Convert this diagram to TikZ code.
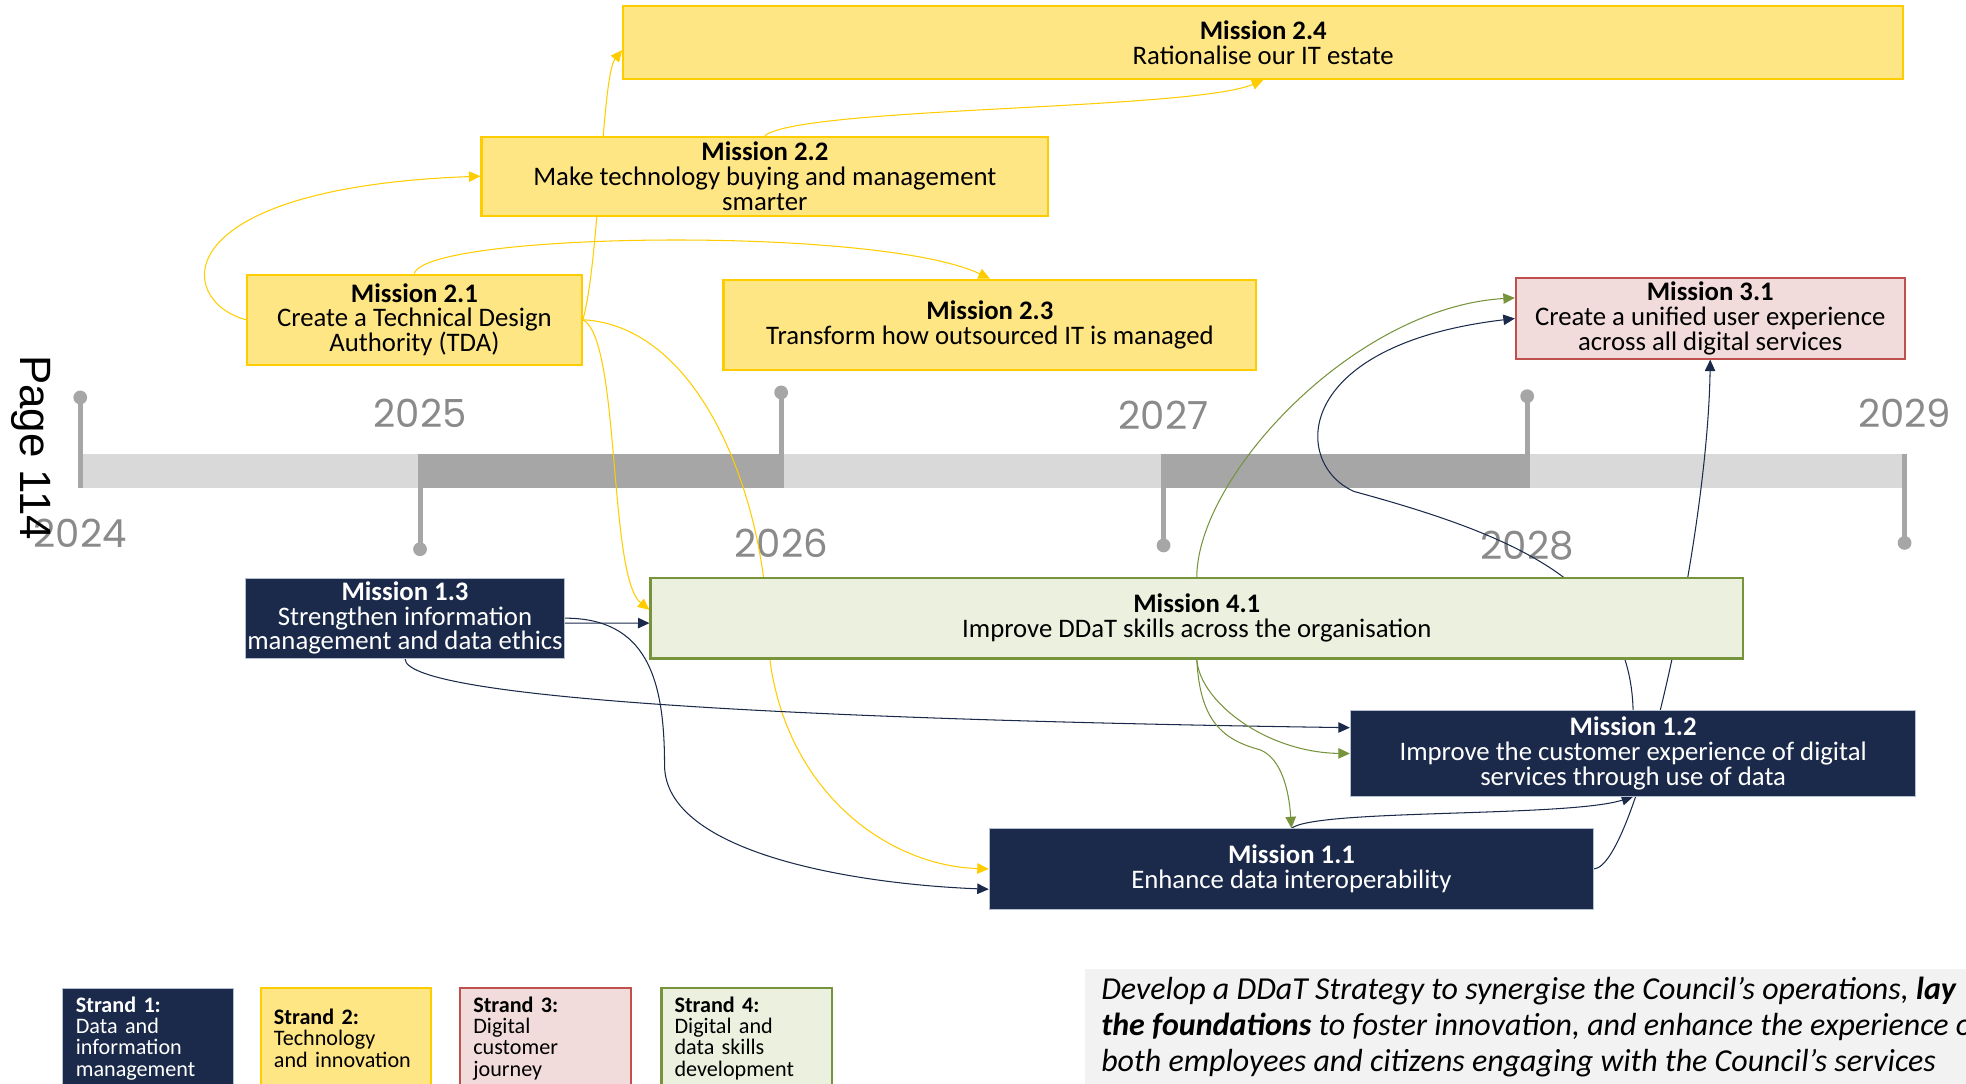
\documentclass[tikz,border=0pt]{standalone}
\usepackage{fontspec}
\setmainfont{Carlito}
\newfontfamily\yearfont{Poppins}
\newfontfamily\pagefont{Liberation Sans}
\usetikzlibrary{arrows.meta,calc}
\definecolor{navy}{HTML}{1B2A4A}
\definecolor{navyedge}{HTML}{B4BFD2}
\definecolor{yellowfill}{HTML}{FFE685}
\definecolor{gold}{HTML}{FFCC00}
\definecolor{pinkfill}{HTML}{F2DCDB}
\definecolor{pinkedge}{HTML}{C0504D}
\definecolor{greenfill}{HTML}{EBF1DE}
\definecolor{greenedge}{HTML}{77933C}
\definecolor{barlight}{HTML}{D9D9D9}
\definecolor{bardark}{HTML}{A6A6A6}
\definecolor{yeargray}{HTML}{8A8A8A}
\definecolor{quotebg}{HTML}{F2F2F2}
\pgfdeclarelayer{timeline}
\pgfdeclarelayer{links}
\pgfsetlayers{timeline,links,main}
\tikzset{
  x=0.6pt,y=-0.6pt,
  wh/.style 2 args={minimum width=#1*0.6pt,minimum height=#2*0.6pt},
  mission/.style={rectangle,inner sep=0pt,align=center,
    font=\fontsize{12.8}{11.8}\selectfont},
  strand1/.style={mission,fill=navy,draw=navyedge,line width=0.5pt,text=white},
  strand2/.style={mission,fill=yellowfill,draw=gold,line width=1pt},
  strand3/.style={mission,fill=pinkfill,draw=pinkedge,line width=1pt},
  strand4/.style={mission,fill=greenfill,draw=greenedge,line width=1.2pt},
  legendbox/.style={inner xsep=6.3pt,inner ysep=0pt,align=left,text width=69pt,
    minimum height=48pt,font=\fontsize{10.6}{10.2}\selectfont},
  link/.style={-{Triangle[length=5.5pt,width=5pt]},line width=0.5pt},
  linkY/.style={link,draw=gold},
  linkN/.style={link,draw=navy},
  linkG/.style={link,draw=greenedge},
  tick/.style={draw=bardark,line width=2.4pt},
  yearlbl/.style={text=yeargray,font=\yearfont\fontsize{18.5}{18.5}\selectfont,inner sep=0pt},
  quote/.style={inner sep=0pt,align=left,anchor=north west,
    font=\itshape\fontsize{15.3}{17.1}\selectfont}
}
\begin{document}
\begin{tikzpicture}
\useasboundingbox (0,0) rectangle (1568,864);

\node[strand2,wh={1021}{58}] (m24) at (1007.5,34) {\textbf{Mission 2.4}\\Rationalise our IT estate};
\node[strand2,wh={452}{63}] (m22) at (610,140.5) {\textbf{Mission 2.2}\\Make technology buying and management\\smarter};
\node[strand2,wh={267}{72}] (m21) at (330.5,255) {\textbf{Mission 2.1}\\Create a Technical Design\\Authority (TDA)};
\node[strand2,wh={425}{72}] (m23) at (789.5,259) {\textbf{Mission 2.3}\\Transform how outsourced IT is managed};
\node[strand3,wh={310}{64}] (m31) at (1364,254) {\textbf{Mission 3.1}\\Create a unified user experience\\across all digital services};
\node[strand1,wh={254}{64}] (m13) at (323,493) {\textbf{Mission 1.3}\\Strengthen information\\management and data ethics};
\node[strand4,wh={871}{64}] (m41) at (954.5,493) {\textbf{Mission 4.1}\\Improve DDaT skills across the organisation};
\node[strand1,wh={451}{68}] (m12) at (1302.5,601) {\textbf{Mission 1.2}\\Improve the customer experience of digital\\services through use of data};
\node[strand1,wh={482}{64}] (m11) at (1030,693) {\textbf{Mission 1.1}\\Enhance data interoperability};

\begin{pgfonlayer}{timeline}
\fill[barlight] (64,362) rectangle (1519,389);
\foreach \a/\b in {334/624,928/1219}
  \fill[bardark] (\a,362) rectangle (\b,389);
\foreach \x/\d/\yr/\ly in {%
  64/317/2024/425,
  335/438/2025/330,
  623/313/2026/433,
  928/435/2027/331,
  1218/316/2028/435,
  1519/433/2029/330%
} {
  \draw[tick] (\x,362) -- (\x,389);
  \draw[tick] (\x,375) -- (\x,\d);
  \fill[bardark] (\x,\d) circle[radius=3.3pt];
  \node[yearlbl] (y\yr) at (\x,\ly) {\yr};
}
\end{pgfonlayer}

\coordinate (w1) at (612,500);
\coordinate (w2) at (530,610);
\coordinate (w3) at (1080,392);
\coordinate (w4) at (1005,598);
\begin{pgfonlayer}{links}
\draw[linkY] (m21.west) .. controls (140,240) and (130,150) .. (m22.west);
\draw[linkY] (m21.north) .. controls (340,185) and (700,180) .. (m23.north);
\draw[linkY] (m21.east) .. controls (478,210) and (480,60) .. ($(m24.north west)!0.6!(m24.south west)$);
\draw[linkY] (m22.north) .. controls (640,85) and (950,88) .. (m24.south);
\draw[linkY] (m21.east) .. controls (495,270) and (485,460) .. ($(m41.north west)!0.4!(m41.south west)$);
\draw[linkY] (m21.east) .. controls (560,260) and (610,400) .. (w1) .. controls (615,620) and (700,690) .. (m11.west);
\draw[linkN] ($(m13.north east)!0.56!(m13.south east)$) -- ($(m41.north west)!0.56!(m41.south west)$);
\draw[linkN] (m13.east) .. controls (515,493) and (530,540) .. (w2) .. controls (530,680) and (680,705) .. ($(m11.north west)!0.75!(m11.south west)$);
\draw[linkN] (m13.south) .. controls (323,560) and (700,575) .. ($(m12.north west)!0.2!(m12.south west)$);
\draw[linkN] (m11.north) .. controls (1050,645) and (1250,652) .. (m12.south);
\draw[linkN] (m11.east) .. controls (1305,690) and (1362,430) .. (m31.south);
\draw[linkN] (m12.north) .. controls (1300,470) and (1220,430) .. (w3) .. controls (1030,370) and (1030,275) .. (m31.west);
\draw[linkG] (m41.north) .. controls (955,380) and (1080,245) .. ($(m31.north west)!0.25!(m31.south west)$);
\draw[linkG] (m41.south) .. controls (957,560) and (1010,600) .. (m12.west);
\draw[linkG] (m41.south) .. controls (957,575) and (975,590) .. (w4) .. controls (1022,605) and (1028,630) .. (m11.north);
\end{pgfonlayer}

\node[font=\pagefont\fontsize{21}{21}\selectfont,rotate=-90,inner sep=0pt] (pg) at (25,357) {Page 114};

\node[strand1,legendbox] (s1) at (118,828) {\textbf{Strand 1:}\\Data and\\information\\management};
\node[strand2,legendbox] (s2) at (276,828) {\textbf{Strand 2:}\\Technology\\and innovation};
\node[strand3,legendbox] (s3) at (435,828) {\textbf{Strand 3:}\\Digital\\customer\\journey};
\node[strand4,legendbox] (s4) at (595.5,828) {\textbf{Strand 4:}\\Digital and\\data skills\\development};

\fill[quotebg] (865,773) rectangle (1600,880);
\node[quote] (q) at (878,779) {Develop a DDaT Strategy to synergise the Council’s operations, \textbf{lay}\\
\textbf{the foundations} to foster innovation, and enhance the experience of\\
both employees and citizens engaging with the Council’s services};
\end{tikzpicture}
\end{document}
